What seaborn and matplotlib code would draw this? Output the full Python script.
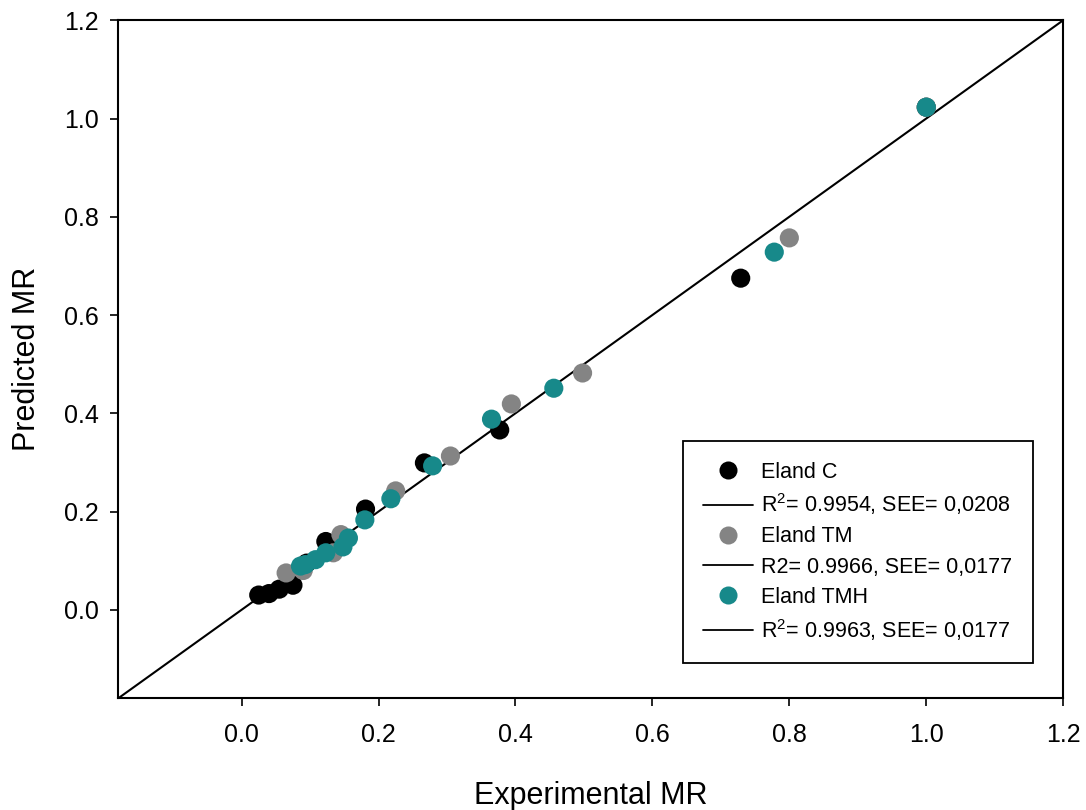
import pandas as pd
import matplotlib.pyplot as plt
import seaborn as sns
from matplotlib.lines import Line2D

# Experimental vs predicted moisture ratio
c_exp = [0.025, 0.040, 0.055, 0.075, 0.095, 0.123, 0.181, 0.267, 0.377, 0.729, 1.0]
c_pred = [0.030, 0.033, 0.042, 0.050, 0.095, 0.139, 0.205, 0.299, 0.366, 0.675, 1.023]

tm_exp = [0.065, 0.090, 0.134, 0.145, 0.225, 0.305, 0.394, 0.498, 0.800, 1.0]
tm_pred = [0.075, 0.080, 0.116, 0.153, 0.242, 0.313, 0.419, 0.482, 0.757, 1.023]

tmh_exp = [0.086, 0.093, 0.108, 0.123, 0.148, 0.156, 0.180, 0.218, 0.279, 0.365, 0.456, 0.778, 1.0]
tmh_pred = [0.089, 0.092, 0.102, 0.116, 0.128, 0.146, 0.183, 0.226, 0.293, 0.388, 0.451, 0.728, 1.023]

series = ['Eland C', 'Eland TM', 'Eland TMH']
colors = ['#000000', '#848484', '#17898a']
fit_labels = ['R$^2$= 0.9954, SEE= 0,0208',
              'R2= 0.9966, SEE= 0,0177',
              'R$^2$= 0.9963, SEE= 0,0177']

df = pd.concat([
    pd.DataFrame({'exp': c_exp, 'pred': c_pred, 'group': series[0]}),
    pd.DataFrame({'exp': tm_exp, 'pred': tm_pred, 'group': series[1]}),
    pd.DataFrame({'exp': tmh_exp, 'pred': tmh_pred, 'group': series[2]}),
], ignore_index=True)

sns.set_style('ticks')
plt.rcParams['font.family'] = ['Liberation Sans', 'DejaVu Sans']
plt.rcParams['mathtext.fontset'] = 'custom'
plt.rcParams['mathtext.rm'] = 'Liberation Sans'
plt.rcParams['text.color'] = 'black'
plt.rcParams['axes.labelcolor'] = 'black'
plt.rcParams['xtick.color'] = 'black'
plt.rcParams['ytick.color'] = 'black'

fig, ax = plt.subplots(figsize=(10.86, 8.1), dpi=100)
fig.subplots_adjust(left=0.109, right=0.979, top=0.975, bottom=0.138)

lims = (-0.18, 1.2)
ax.plot(lims, lims, color='black', lw=1.5, zorder=1)

sns.scatterplot(data=df, x='exp', y='pred', hue='group', hue_order=series,
                palette=colors, s=190, linewidth=0, alpha=1, legend=False,
                ax=ax, zorder=3)

ax.set_xlim(lims)
ax.set_ylim(lims)
ticks = [0.0, 0.2, 0.4, 0.6, 0.8, 1.0, 1.2]
ax.set_xticks(ticks)
ax.set_yticks(ticks)
ax.set_xticklabels([f'{t:.1f}' for t in ticks])
ax.set_yticklabels([f'{t:.1f}' for t in ticks])
ax.tick_params(direction='out', length=6, width=1.2, labelsize=18, pad=8)
ax.tick_params(axis='x', pad=12)
for sp in ax.spines.values():
    sp.set_linewidth(1.5)
    sp.set_color('black')

ax.set_xlabel('Experimental MR', fontsize=22, labelpad=24)
ax.set_ylabel('Predicted MR', fontsize=22, labelpad=16)

handles, labels = [], []
for name, col, fit in zip(series, colors, fit_labels):
    handles.append(Line2D([], [], ls='none', marker='o', markersize=13,
                          markerfacecolor=col, markeredgewidth=0))
    labels.append(name)
    handles.append(Line2D([], [], color='black', lw=1.3))
    labels.append(fit)

leg = ax.legend(handles, labels, loc='lower right', bbox_to_anchor=(0.968, 0.052),
                borderaxespad=0, fontsize=15.5, frameon=True, fancybox=False,
                framealpha=1, edgecolor='black', handlelength=2.3,
                labelspacing=0.42, borderpad=0.95, handletextpad=0.4)
leg.get_frame().set_linewidth(1.3)

plt.savefig('out.png', dpi=100)
